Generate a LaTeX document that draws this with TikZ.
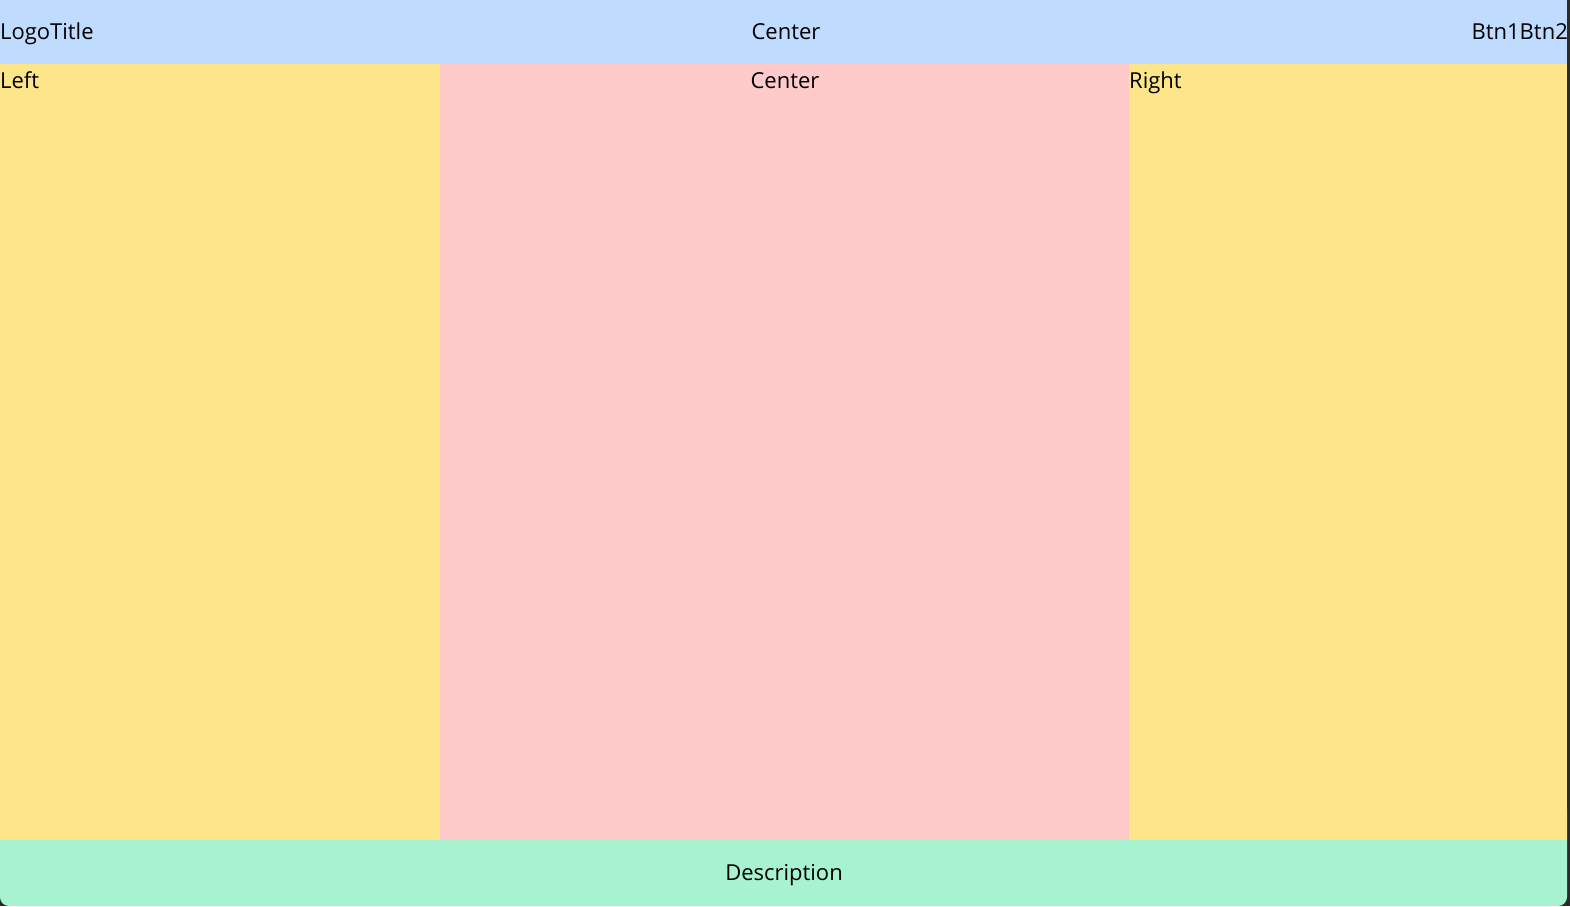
\documentclass[tikz,border=0pt]{standalone}
\usepackage{fontspec}
\setmainfont{Open Sans}
\definecolor{hdr}{HTML}{BFDBFE}
\definecolor{side}{HTML}{FDE68A}
\definecolor{mid}{HTML}{FECACA}
\definecolor{ftr}{HTML}{A7F3D0}
\definecolor{edge}{HTML}{2A2A2A}
\tikzset{
  lbl/.style={inner sep=0pt, font=\fontsize{22}{26}\selectfont, text=black},
}
\begin{document}
\begin{tikzpicture}[x=1pt,y=-1pt]
\useasboundingbox (0,0) rectangle (1570,906);
\fill[edge] (0,0) rectangle (1570,906);
% footer with rounded bottom corners (top part covered by body)
\fill[ftr, rounded corners=9pt] (0,800) rectangle (1567,906);
% header
\fill[hdr] (0,0) rectangle (1567,64);
% body
\fill[side] (0,64) rectangle (440,840);
\fill[mid] (440,64) rectangle (1129,840);
\fill[side] (1129,64) rectangle (1567,840);
% texts
\node[lbl, anchor=base west] (logo) at (0,39) {LogoTitle};
\node[lbl, anchor=base] (hc) at (786,39) {Center};
\node[lbl, anchor=base east] (btn) at (1568,39) {Btn1Btn2};
\node[lbl, anchor=base west] (left) at (0,88) {Left};
\node[lbl, anchor=base] (cc) at (785,88) {Center};
\node[lbl, anchor=base west] (right) at (1129,88) {Right};
\node[lbl, anchor=base] (desc) at (784,880) {Description};
\end{tikzpicture}
\end{document}
